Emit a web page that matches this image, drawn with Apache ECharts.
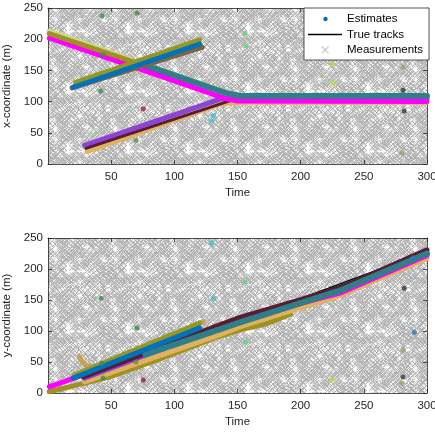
<!DOCTYPE html>
<html><head><meta charset="utf-8">
<script src="https://cdn.jsdelivr.net/npm/echarts@6/dist/echarts.min.js"></script>
<style>html,body{margin:0;padding:0;background:#fff}#c{width:435px;height:432px}</style>
</head><body><div id="c"></div>
<script>
// ---------------- data ----------------
const timeTicks = [0, 50, 100, 150, 200, 250, 300];
const coordTicks = [0, 50, 100, 150, 200, 250];

// x-coordinate panel: true tracks [time, x]
const truthX_A = [[1,207],[145,104],[300,104]];
const truthX_B = [[20,127],[120,193]];
const truthX_C = [[30,25],[145,103],[300,103]];
// x-coordinate panel: estimate tracks
const estX_pale    = [[1,213],[65,168]];
const estX_olive   = [[1,209],[76,158]];
const estX_tan     = [[31,20],[136,96],[152,99],[300,99]];
const estX_purple  = [[29,30],[138,105],[152,104],[300,104]];
const estX_maroon  = [[30,25],[145,102]];
const estX_magenta = [[1,202],[140,105],[150,101],[300,100]];
const estX_teal    = [[76,159],[142,113],[152,109],[300,109]];
const estX_brown   = [[19,122],[122,187]];
const estX_blue    = [[20,123],[120,192]];
const estX_oliveG  = [[22,131],[120,199]];
const estX_dots = [[42.7,237],[70.5,242],[43.6,175],[41.7,117],[75.4,88],[69.7,38],[131,78],[129.5,69],
                   [156,210],[156.8,189],[224.8,160],[225.6,130],[281,155],[281,118],[282,85],[280,17.5]];

// y-coordinate panel: true tracks [time, y]
const truthY_A = [[1,8],[300,223]];
const truthY_B = [[20,27],[120,110]];
const truthY_C = [[30,24],[300,228]];
// y-coordinate panel: estimate tracks
const estY_olive   = [[1,2],[49,26],[90,56],[132,89],[152,102],[172,111],[192,127]];
const estY_tan     = [[29,18],[136,94],[152,107],[231,157],[300,217]];
const estY_purple  = [[29,24],[136,106],[152,118],[231,166],[300,226]];
const estY_magenta = [[1,10],[77,64],[152,119],[231,161],[300,222]];
const estY_maroon  = [[28,26],[136,110],[152,122],[231,169],[300,231]];
const estY_teal    = [[77,62],[152,114],[231,165],[300,225]];
const estY_tanB    = [[25,59],[27,50],[31,42],[40,44],[123,115]];
const estY_oliveG  = [[21,29],[120,113]];
const estY_blue    = [[20,24],[120,105]];
const estY_dots = [[129.5,242],[131,153],[42,153],[70.5,105],[42.7,48],[43.6,24],[69.7,50],[75.4,21],
                   [156,179],[156.8,82],[225,21],[282,169],[281,26],[281,69],[280,16],[290,98],[289,218]];

// measurements: dense clutter rendered as a texture (see clutterPattern)
const measurements = [];

// ---------------- styles ----------------
const FONT = "'Liberation Sans', Arial, Helvetica, sans-serif";
const INK = '#262626';
const C = {
  blue:'#0072bd', magenta:'#ff00ff', teal:'#2f7e88', olive:'#9e9222', pale:'#d3d68e',
  oliveG:'#939824', brown:'#7d6442', tanB:'#c9a152', purple:'#8e44d4', maroon:'#561d33', tan:'#e2b15e'
};
const G='#3a8f45', MR='#8c2346', OG='#6a9040', CY='#3cc6cc', LG='#5fd77a', YG='#b5e03c', OY='#a3a064', DK='#2f4038', BL='#2a78c4';
const estX_dotColors = [G,G,G,G,MR,OG,CY,CY,LG,LG,YG,YG,OY,DK,DK,OY];
const estY_dotColors = [CY,CY,G,G,G,G,OG,MR,LG,LG,YG,DK,DK,OY,OY,BL,BL];

// texture standing in for the clutter of gray 'x' measurement markers
function clutterPattern() {
  const T = 60, N = 20, step = 3, c = document.createElement('canvas');
  c.width = c.height = T;
  const g = c.getContext('2d');
  g.fillStyle = '#ffffff'; g.fillRect(0, 0, T, T);
  g.strokeStyle = '#b0b0b0'; g.lineWidth = 1;
  const r = 3;
  const hash = (a, b) => { let h = Math.imul(a + 7, 73856093) ^ Math.imul(b + 3, 19349663); h ^= h >>> 13; h = Math.imul(h, 1274126177); return (h ^ (h >>> 16)) >>> 0; };
  for (let i = 0; i < N; i++) for (let j = 0; j < N; j++) {
    const h = hash(i, j);
    const blob = hash((i / 2) | 0, 100 + ((j / 2) | 0)) % 5 === 0;
    if (blob && h % 4 !== 0) continue;
    if (h % 7 === 0) continue;
    const cx = i * step + (h % 7) / 3 - 1, cy = j * step + ((h >>> 4) % 7) / 3 - 1;
    for (const ox of [-T, 0, T]) for (const oy of [-T, 0, T]) {
      const x = cx + ox, y = cy + oy;
      g.beginPath();
      g.moveTo(x - r, y - r); g.lineTo(x + r, y + r);
      g.moveTo(x + r, y - r); g.lineTo(x - r, y + r);
      g.stroke();
    }
  }
  return { image: c, repeat: 'repeat' };
}
const pattern = clutterPattern();

function band(gi, data, color, w) {
  return { type:'line', name:'Estimates', xAxisIndex:gi*2, yAxisIndex:gi*2, data:data, symbol:'none',
    lineStyle:{ color:color, width:w || 5, cap:'round', join:'round' }, itemStyle:{ color:color },
    silent:true, animation:false, z:3 };
}
function truth(gi, data) {
  return { type:'line', name:'True tracks', xAxisIndex:gi*2, yAxisIndex:gi*2, data:data, symbol:'none',
    lineStyle:{ color:'#000', width:1.3 }, itemStyle:{ color:'#000' }, silent:true, animation:false, z:2 };
}
function dots(gi, pts, cols) {
  return { type:'scatter', name:'Estimates', xAxisIndex:gi*2, yAxisIndex:gi*2, symbolSize:5,
    data: pts.map((p, i) => ({ value:p, itemStyle:{ color:cols[i] } })), silent:true, animation:false, z:4 };
}

const tMin = timeTicks[0], tMax = timeTicks[timeTicks.length-1], tInt = timeTicks[1]-timeTicks[0];
const vMin = coordTicks[0], vMax = coordTicks[coordTicks.length-1], vInt = coordTicks[1]-coordTicks[0];
const lineSt = { color: INK, width: 0.8 };
function xAxes(gi) {
  return [
    { type:'value', gridIndex:gi, position:'bottom', min:tMin, max:tMax, interval:tInt,
      name:'Time', nameLocation:'middle', nameGap:23,
      nameTextStyle:{ fontSize:11.5, color:INK, fontFamily:FONT },
      axisLine:{ show:true, onZero:false, lineStyle:lineSt },
      axisTick:{ show:true, inside:true, length:4, lineStyle:lineSt },
      axisLabel:{ show:true, showMinLabel:false, margin:7, fontSize:11.5, color:INK, fontFamily:FONT },
      splitLine:{ show:false } },
    { type:'value', gridIndex:gi, position:'top', min:tMin, max:tMax, interval:tInt,
      axisLine:{ show:true, onZero:false, lineStyle:lineSt },
      axisTick:{ show:true, inside:true, length:4, lineStyle:lineSt },
      axisLabel:{ show:false }, splitLine:{ show:false } }
  ];
}
function yAxes(gi, name) {
  return [
    { type:'value', gridIndex:gi, position:'left', min:vMin, max:vMax, interval:vInt,
      name:name, nameLocation:'middle', nameGap:28,
      nameTextStyle:{ fontSize:11.5, color:INK, fontFamily:FONT },
      axisLine:{ show:true, onZero:false, lineStyle:lineSt },
      axisTick:{ show:true, inside:true, length:4, lineStyle:lineSt },
      axisLabel:{ show:true, margin:5, fontSize:11.5, color:INK, fontFamily:FONT },
      splitLine:{ show:false } },
    { type:'value', gridIndex:gi, position:'right', min:vMin, max:vMax, interval:vInt,
      axisLine:{ show:true, onZero:false, lineStyle:lineSt },
      axisTick:{ show:true, inside:true, length:4, lineStyle:lineSt },
      axisLabel:{ show:false }, splitLine:{ show:false } }
  ];
}

const dotIcon  = 'path://M0,0M34,11M15.3,5.5a2.2,2.2 0 1,0 4.4,0a2.2,2.2 0 1,0 -4.4,0Z';
const lineIcon = 'path://M0,0M34,11M0,4.7L34,4.7L34,6.3L0,6.3Z';
const xIcon    = 'path://M0,0M34,11M13.6,2.5L14.3,1.8L20.9,8.4L20.2,9.1ZM20.2,1.8L20.9,2.5L14.3,9.1L13.6,8.4Z';

const series = [
  { type:'scatter', name:'Measurements', xAxisIndex:0, yAxisIndex:0, data:measurements,
    symbol:'path://M0,0L1,1M1,0L0,1', itemStyle:{ color:'#b3b3b3' } },
  truth(0, truthX_A), truth(0, truthX_B), truth(0, truthX_C),
  band(0, estX_pale, C.pale), band(0, estX_tan, C.tan), band(0, estX_purple, C.purple),
  band(0, estX_maroon, C.maroon, 3), band(0, estX_magenta, C.magenta), band(0, estX_olive, C.olive),
  band(0, estX_teal, C.teal, 6),
  band(0, estX_brown, C.brown), band(0, estX_oliveG, C.oliveG), band(0, estX_blue, C.blue),
  dots(0, estX_dots, estX_dotColors),

  truth(1, truthY_A), truth(1, truthY_B), truth(1, truthY_C),
  band(1, estY_olive, C.olive), band(1, estY_tan, C.tan), band(1, estY_purple, C.purple),
  band(1, estY_magenta, C.magenta), band(1, estY_maroon, C.maroon), band(1, estY_teal, C.teal, 6),
  band(1, estY_tanB, C.tanB), band(1, estY_oliveG, C.oliveG), band(1, estY_blue, C.blue),
  dots(1, estY_dots, estY_dotColors)
];

const chart = echarts.init(document.getElementById('c'), null, { renderer:'canvas' });
chart.setOption({
  animation:false,
  backgroundColor:'#ffffff',
  textStyle:{ fontFamily:FONT },
  grid:[
    { left:48, top:8, width:379, height:156, show:true, backgroundColor:pattern, borderWidth:0, containLabel:false, outerBoundsMode:'none' },
    { left:48, top:238, width:379, height:155, show:true, backgroundColor:pattern, borderWidth:0, containLabel:false, outerBoundsMode:'none' }
  ],
  xAxis:[].concat(xAxes(0), xAxes(1)),
  yAxis:[].concat(yAxes(0, 'x-coordinate (m)'), yAxes(1, 'y-coordinate (m)')),
  legend:{
    orient:'vertical', left:304, top:8, padding:[5,6,4,4], itemWidth:34, itemHeight:11, itemGap:3.5,
    backgroundColor:'#ffffff', borderColor:INK, borderWidth:0.8, selectedMode:false,
    textStyle:{ fontSize:11.5, color:'#000', fontFamily:FONT },
    itemStyle:{ borderWidth:0 },
    data:[
      { name:'Estimates', icon:dotIcon, itemStyle:{ color:C.blue } },
      { name:'True tracks', icon:lineIcon, itemStyle:{ color:'#000' } },
      { name:'Measurements', icon:xIcon, itemStyle:{ color:'#a6a6a6' } }
    ]
  },
  series:series
});
</script>
</body></html>
